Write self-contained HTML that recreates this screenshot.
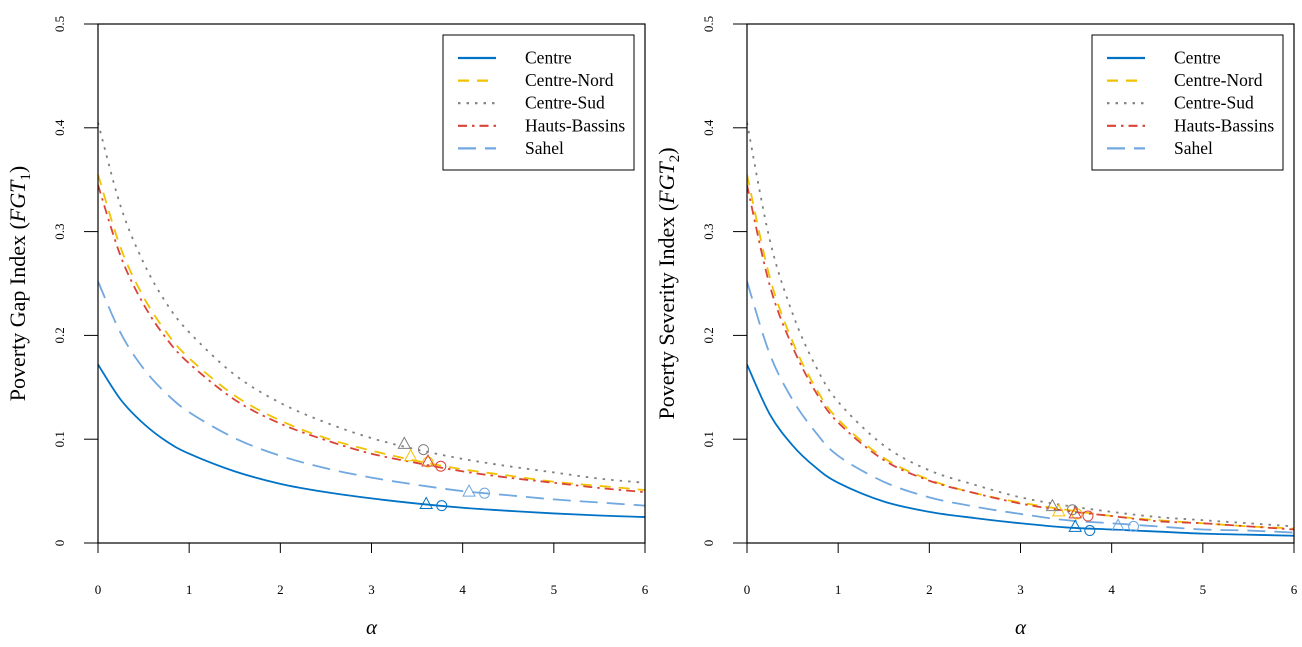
<!DOCTYPE html>
<html><head><meta charset="utf-8"><style>
html,body{margin:0;padding:0;background:#fff;}
svg text{font-family:"Liberation Serif","DejaVu Serif",serif;fill:#000;}
</style></head><body>
<svg id="chart" width="1302" height="642" viewBox="0 0 1302 642" xmlns="http://www.w3.org/2000/svg"></svg>
<script>
const alphas=[0,0.25,0.5,0.75,1,1.5,2,2.5,3,3.5,4,4.5,5,5.5,6];
const xTicks=[0,1,2,3,4,5,6];
const yTicks=[0,0.1,0.2,0.3,0.4,0.5];
const yTickLabels=["0","0.1","0.2","0.3","0.4","0.5"];
const seriesNames=["Centre","Centre-Nord","Centre-Sud","Hauts-Bassins","Sahel"];
const gapCentre=[0.172,0.138,0.115,0.098,0.086,0.069,0.057,0.049,0.043,0.038,0.034,0.031,0.0285,0.0265,0.025];
const gapNord=[0.355,0.284,0.237,0.203,0.178,0.142,0.118,0.101,0.089,0.079,0.071,0.065,0.059,0.055,0.051];
const gapSud=[0.405,0.324,0.270,0.231,0.203,0.162,0.135,0.116,0.101,0.090,0.081,0.074,0.068,0.062,0.058];
const gapHauts=[0.345,0.276,0.230,0.197,0.173,0.138,0.115,0.099,0.086,0.077,0.069,0.063,0.058,0.053,0.049];
const gapSahel=[0.252,0.202,0.168,0.144,0.126,0.101,0.084,0.072,0.063,0.056,0.050,0.046,0.042,0.039,0.036];
const sevCentre=[0.172,0.124,0.094,0.073,0.058,0.040,0.030,0.024,0.019,0.015,0.013,0.011,0.009,0.008,0.007];
const sevNord=[0.355,0.256,0.194,0.150,0.119,0.082,0.061,0.048,0.039,0.032,0.026,0.022,0.019,0.016,0.014];
const sevSud=[0.405,0.292,0.221,0.171,0.136,0.094,0.070,0.056,0.044,0.036,0.030,0.025,0.022,0.019,0.016];
const sevHauts=[0.345,0.248,0.189,0.146,0.116,0.080,0.060,0.048,0.038,0.031,0.026,0.021,0.019,0.016,0.013];
const sevSahel=[0.252,0.182,0.138,0.107,0.084,0.059,0.044,0.035,0.028,0.022,0.019,0.016,0.013,0.012,0.010];
// markers (Centre, Nord, Sud, Hauts, Sahel)
const gapTriA=[3.60,3.43,3.36,3.62,4.07];
const gapTriV=[0.038,0.084,0.096,0.079,0.050];
const gapCirA=[3.77,3.62,3.57,3.76,4.24];
const gapCirV=[0.036,0.078,0.090,0.074,0.048];
const sevTriA=[3.60,3.42,3.35,3.60,4.07];
const sevTriV=[0.016,0.031,0.036,0.029,0.017];
const sevCirA=[3.76,3.62,3.57,3.74,4.24];
const sevCirV=[0.012,0.028,0.032,0.026,0.016];

const colors=["#0072c6","#f2c200","#808080","#d9443a","#72a8e0"];
const dashes=["","11,8","2.5,6","9,5,2.5,5","18,9"];
const NS="http://www.w3.org/2000/svg";
const svg=document.getElementById('chart');
function mk(tag,attrs,parent){const e=document.createElementNS(NS,tag);for(const k in attrs)e.setAttribute(k,attrs[k]);(parent||svg).appendChild(e);return e;}
function catmull(pts){let d="M"+pts[0][0]+","+pts[0][1];for(let i=0;i<pts.length-1;i++){const p0=pts[i-1]||pts[i],p1=pts[i],p2=pts[i+1],p3=pts[i+2]||p2;
const c1=[p1[0]+(p2[0]-p0[0])/6,p1[1]+(p2[1]-p0[1])/6],c2=[p2[0]-(p3[0]-p1[0])/6,p2[1]-(p3[1]-p1[1])/6];
d+=" C"+c1[0].toFixed(2)+","+c1[1].toFixed(2)+" "+c2[0].toFixed(2)+","+c2[1].toFixed(2)+" "+p2[0].toFixed(2)+","+p2[1].toFixed(2);}return d;}

function panel(id,x0,series,triA,triV,cirA,cirV,ytitle,sub){
  const x1=x0+547,y0=24,y1=543;
  const xs=a=>x0+a/6*(x1-x0), ys=v=>y1-v/0.5*(y1-y0);
  const g=mk('g',{});
  
  const cp=mk('clipPath',{id:id+'clip'},g);mk('rect',{x:x0,y:y0,width:x1-x0,height:y1-y0},cp);
  series.forEach((s,i)=>{
    const p=mk('path',{d:catmull(s.map((v,j)=>[xs(alphas[j]),ys(v)])),fill:'none',stroke:colors[i],'stroke-width':1.8,'stroke-dasharray':dashes[i],'clip-path':'url(#'+id+'clip)'},g);
    
    
  });
  for(let i=0;i<5;i++){
    const tx=xs(triA[i]),ty=ys(triV[i]);
    const t=mk('polygon',{points:`${tx-6},${ty+5} ${tx+6},${ty+5} ${tx},${ty-6}`,fill:'none',stroke:colors[i],'stroke-width':1},g);
    
    
    const c=mk('circle',{cx:xs(cirA[i]),cy:ys(cirV[i]),r:5,fill:'none',stroke:colors[i],'stroke-width':1},g);
    
    
  }
  mk('rect',{x:x0,y:y0,width:x1-x0,height:y1-y0,fill:'none',stroke:'#000','stroke-width':1.2},g);
  xTicks.forEach(t=>{mk('line',{x1:xs(t),x2:xs(t),y1:y1,y2:y1+10,stroke:'#000','stroke-width':1},g);
    const tx=mk('text',{x:xs(t),y:594,'font-size':13,'text-anchor':'middle'},g);tx.textContent=t;
    });
  yTicks.forEach((t,i)=>{mk('line',{x1:x0-14,x2:x0,y1:ys(t),y2:ys(t),stroke:'#000','stroke-width':1},g);
    const tx=mk('text',{x:0,y:0,'font-size':13,'text-anchor':'middle',transform:`translate(${x0-34},${ys(t)}) rotate(-90)`},g);tx.textContent=yTickLabels[i];
    });
  const xl=mk('text',{x:(x0+x1)/2,y:634,'font-size':21,'font-style':'italic','text-anchor':'middle'},g);xl.textContent='α';
  
  const yl=mk('text',{x:0,y:0,'font-size':22,'text-anchor':'middle',transform:`translate(${x0-73},${(y0+y1)/2}) rotate(-90)`},g);
  yl.innerHTML=ytitle+' (<tspan font-style="italic">FGT</tspan><tspan font-size="15" dy="5">'+sub+'</tspan><tspan dy="-5">)</tspan>';
  
  const lg=mk('g',{},g);
  const lx=x0+345;
  mk('rect',{x:lx,y:35,width:191,height:135,fill:'#fff',stroke:'#000','stroke-width':1},lg);
  seriesNames.forEach((n,i)=>{const yy=58+i*22.6;
    mk('line',{x1:lx+15,x2:lx+53,y1:yy,y2:yy,stroke:colors[i],'stroke-width':2.2,'stroke-dasharray':dashes[i]},lg);
    const t=mk('text',{x:lx+82,y:yy+5.5,'font-size':17.5},lg);t.textContent=n;
    });
}
panel('gap',98,[gapCentre,gapNord,gapSud,gapHauts,gapSahel],gapTriA,gapTriV,gapCirA,gapCirV,'Poverty Gap Index','1');
panel('severity',747,[sevCentre,sevNord,sevSud,sevHauts,sevSahel],sevTriA,sevTriV,sevCirA,sevCirV,'Poverty Severity Index','2');
</script>
</body></html>
